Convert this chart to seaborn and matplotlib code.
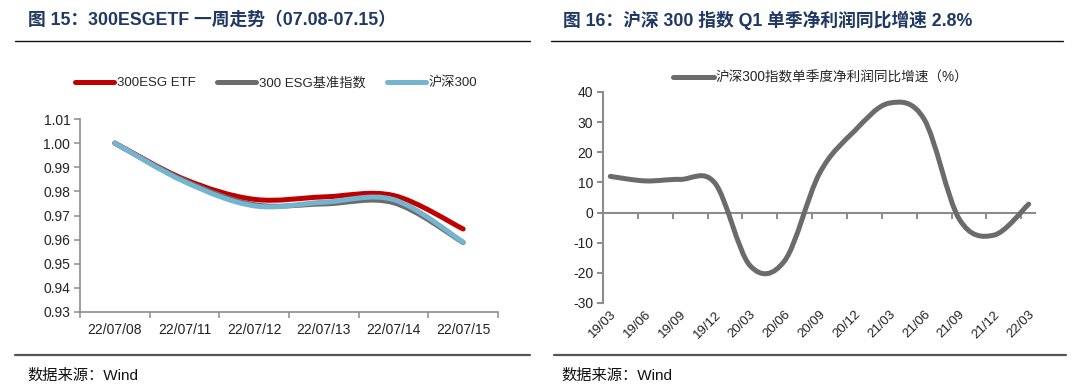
import numpy as np
import pandas as pd
import matplotlib
matplotlib.use("Agg")
import matplotlib.pyplot as plt
from matplotlib.path import Path
from matplotlib.patches import PathPatch
from matplotlib.lines import Line2D
import seaborn as sns

# ---- данные ----
dates_l = ['22/07/08', '22/07/11', '22/07/12', '22/07/13', '22/07/14', '22/07/15']
etf = [1.000, 0.9850, 0.9767, 0.9777, 0.9783, 0.9644]
esg_index = [1.000, 0.9845, 0.9745, 0.9748, 0.9753, 0.9588]
hs300 = [1.000, 0.9840, 0.9740, 0.9755, 0.9766, 0.9590]

quarters = ['19/03', '19/06', '19/09', '19/12', '20/03', '20/06', '20/09',
            '20/12', '21/03', '21/06', '21/09', '21/12', '22/03']
profit_yoy = [12.0, 10.5, 11.0, 9.8, -17.5, -16.0, 13.0, 27.0, 36.3, 31.0, -2.0, -7.5, 2.8]

sns.set_theme(style='white')
plt.rcParams['font.family'] = ['Liberation Sans', 'Noto Sans CJK SC', 'DejaVu Sans']
plt.rcParams['axes.unicode_minus'] = False

NAVY = '#1f3864'
AXC = '#8c8c8c'


# сглаженная линия как в Excel (кривые Безье через точки)
def smooth_line(ax, x, y, color, lw, z=2):
    pts = np.column_stack([x, y]).astype(float)
    n = len(pts)
    verts = [pts[0]]
    codes = [Path.MOVETO]
    for i in range(n - 1):
        p0 = pts[i - 1] if i > 0 else pts[i]
        p1 = pts[i]
        p2 = pts[i + 1]
        p3 = pts[i + 2] if i + 2 < n else pts[i + 1]
        verts += [p1 + (p2 - p0) / 6, p2 - (p3 - p1) / 6, p2]
        codes += [Path.CURVE4] * 3
    patch = PathPatch(Path(verts, codes), fill=False, edgecolor=color, lw=lw,
                      capstyle='round', joinstyle='round', zorder=z)
    ax.add_patch(patch)


fig = plt.figure(figsize=(10.8, 3.87), dpi=100)

# ---- левый график ----
ax1 = fig.add_axes([0.0741, 0.1938, 0.3870, 0.4987])
xl = np.arange(len(dates_l))
df_l = pd.DataFrame({'x': xl, 'etf': etf, 'esg': esg_index, 'hs300': hs300})
series_l = [('etf', '300ESG ETF', '#c00000'),
            ('esg', '300 ESG基准指数', '#6b6b6b'),
            ('hs300', '沪深300', '#74b4cf')]
for i, (col, lab, c) in enumerate(series_l):
    smooth_line(ax1, df_l['x'], df_l[col], c, 3.6, z=2 + i)

ax1.set_xlim(-0.5, len(dates_l) - 0.5)
ax1.set_ylim(0.93, 1.01)
ax1.set_yticks(np.arange(0.93, 1.0101, 0.01))
ax1.yaxis.set_major_formatter(matplotlib.ticker.FormatStrFormatter('%.2f'))
ax1.set_xticks(xl)
ax1.set_xticklabels(dates_l)
ax1.set_xticks(np.arange(-0.5, len(dates_l), 1.0), minor=True)
ax1.tick_params(axis='x', which='major', length=0, pad=8, labelsize=10, colors='#222222')
ax1.tick_params(axis='x', which='minor', length=4, width=1.1, color=AXC, direction='out')
ax1.tick_params(axis='y', length=4, width=1.1, color=AXC, labelsize=10, labelcolor='#222222', pad=3)
ax1.tick_params(axis='y', which='major', left=True)
ax1.tick_params(axis='x', which='minor', bottom=True)
sns.despine(ax=ax1)
for s in ['left', 'bottom']:
    ax1.spines[s].set_color(AXC)
    ax1.spines[s].set_linewidth(1.2)

h1 = [Line2D([], [], color=c, lw=3.6, solid_capstyle='round') for _, _, c in series_l]
fig.legend(h1, [lab for _, lab, _ in series_l], loc='center left',
           bbox_to_anchor=(0.058, 0.785), ncol=3, frameon=False, fontsize=9.5,
           handlelength=3.0, handletextpad=0.2, columnspacing=1.6)

# ---- правый график ----
ax2 = fig.add_axes([0.5583, 0.2171, 0.4000, 0.5452])
xr = np.arange(len(quarters))
df_r = pd.DataFrame({'x': xr, 'yoy': profit_yoy})
smooth_line(ax2, df_r['x'], df_r['yoy'], '#6b6b6b', 3.6)

ax2.set_xlim(-0.21, len(quarters) - 0.82)
ax2.set_ylim(-30, 40)
ax2.set_yticks(np.arange(-30, 41, 10))
ax2.set_xticks(xr)
ax2.set_xticklabels(quarters, rotation=45, ha='right', rotation_mode='anchor')
ax2.tick_params(axis='x', length=0, pad=4, labelsize=9.5, colors='#222222')
ax2.tick_params(axis='y', left=True, length=4, width=1.4, color=AXC, labelsize=10,
                labelcolor='#222222', pad=3)
sns.despine(ax=ax2)
ax2.spines['bottom'].set_visible(False)
ax2.spines['left'].set_color(AXC)
ax2.spines['left'].set_linewidth(1.5)

# ось X на уровне нуля
zero_pos = (0 - (-30)) / 70
sec = ax2.secondary_xaxis(zero_pos)
sec.set_xticks(np.arange(0.79, len(quarters) - 1, 1.0))
sec.tick_params(axis='x', length=4, width=1.4, color=AXC, direction='out', labelbottom=False)
sec.set_xticklabels([])
sec.spines['bottom'].set_color(AXC)
sec.spines['bottom'].set_linewidth(1.5)

h2 = [Line2D([], [], color='#6b6b6b', lw=3.6, solid_capstyle='round')]
fig.legend(h2, ['沪深300指数单季度净利润同比增速（%）'], loc='center left',
           bbox_to_anchor=(0.612, 0.80), frameon=False, fontsize=9.8,
           handlelength=3.0, handletextpad=0.1)

# ---- заголовки и источники ----
fig.text(28 / 1080, 1 - 20 / 387, '图 15：300ESGETF 一周走势（07.08-07.15）',
         fontsize=12.8, fontweight='bold', color=NAVY, va='center', ha='left')
fig.text(563 / 1080, 1 - 20 / 387, '图 16：沪深 300 指数 Q1 单季净利润同比增速 2.8%',
         fontsize=12.8, fontweight='bold', color=NAVY, va='center', ha='left')

for x0, x1 in [(15, 530), (551, 1063)]:
    fig.add_artist(Line2D([x0 / 1080, x1 / 1080], [1 - 41 / 387] * 2, color='#111111', lw=1.0))
for x0, x1 in [(15, 530), (554, 1066)]:
    fig.add_artist(Line2D([x0 / 1080, x1 / 1080], [1 - 355 / 387] * 2, color='#555555', lw=1.6))

fig.text(27 / 1080, 1 - 376 / 387, '数据来源：Wind', fontsize=11, color='#111111', va='center')
fig.text(561 / 1080, 1 - 376 / 387, '数据来源：Wind', fontsize=11, color='#111111', va='center')

fig.savefig('out.png', dpi=100)
